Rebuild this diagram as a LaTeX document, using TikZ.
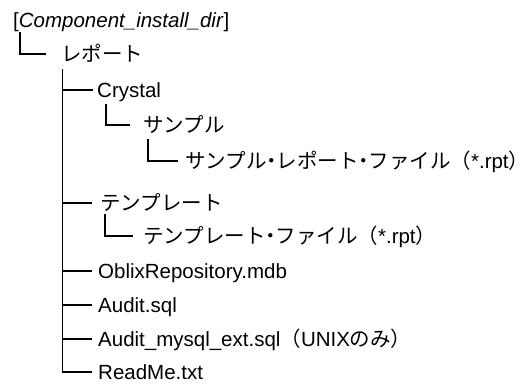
\documentclass[tikz,border=0pt]{standalone}
\usepackage{fontspec}
\setmainfont{Liberation Sans}
\newfontfamily\jp{Noto Sans CJK JP}
% katakana middle dot set in a narrowed box
\newcommand{\nakaguro}{\makebox[10pt][c]{\jp ・}}
% full-width closing parenthesis without its trailing blank half
\newcommand{\closeparen}{\makebox[8pt][l]{\jp ）}}
\begin{document}
\begin{tikzpicture}[x=1pt,y=-1pt,
  item/.style={anchor=west, inner sep=0pt, text height=17pt, text depth=2pt,
    font=\fontsize{20.5}{24}\selectfont},
  conn/.style={line width=1.8pt, line join=miter}]
\useasboundingbox (0,0) rectangle (521,383);

% directory entries
\node[item] (root)       at (13,20)  {[\textit{Component\_install\_dir}]};
\node[item] (report)     at (61,54)  {\jp レポート};
\node[item] (crystal)    at (97,90)  {Crystal};
\node[item] (sample)     at (143,125) {\jp サンプル};
\node[item] (samplefile) at (185,161) {{\jp サンプル}\nakaguro{\jp レポート}\nakaguro{\jp ファイル（}*.rpt\closeparen};
\node[item] (tmpl)       at (100,203) {\jp テンプレート};
\node[item] (tmplfile)   at (143,236) {{\jp テンプレート}\nakaguro{\jp ファイル（}*.rpt\closeparen};
\node[item] (oblix)      at (98,271) {OblixRepository.mdb};
\node[item] (audit)      at (98,305) {Audit.sql};
\node[item] (mysql)      at (98,339) {Audit\_mysql\_ext.sql{\jp （}UNIX{\jp のみ}\closeparen};
\node[item] (readme)     at (98,372) {ReadMe.txt};

% tree branches
\draw[conn] ([shift={(7,2.5)}]root.south west) |- ([xshift=-15pt]report.west);
\coordinate (trunk) at ([shift={(1.5,5.5)}]report.south west);
\draw[conn] (trunk) |- ([xshift=-6pt]readme.west);
\draw[conn] (crystal.west -| trunk) -- ([xshift=-4pt]crystal.west);
\draw[conn] (tmpl.west -| trunk) -- ([xshift=-8pt]tmpl.west);
\foreach \n in {oblix,audit,mysql}
  \draw[conn] (\n.west -| trunk) -- ([xshift=-6pt]\n.west);
\draw[conn] ([shift={(9,4.5)}]crystal.south west) |- ([xshift=-13pt]sample.west);
\draw[conn] ([shift={(5,4.5)}]sample.south west) |- ([xshift=-7pt]samplefile.west);
\draw[conn] ([shift={(5,1.5)}]tmpl.south west) |- ([xshift=-10pt]tmplfile.west);
\end{tikzpicture}
\end{document}
